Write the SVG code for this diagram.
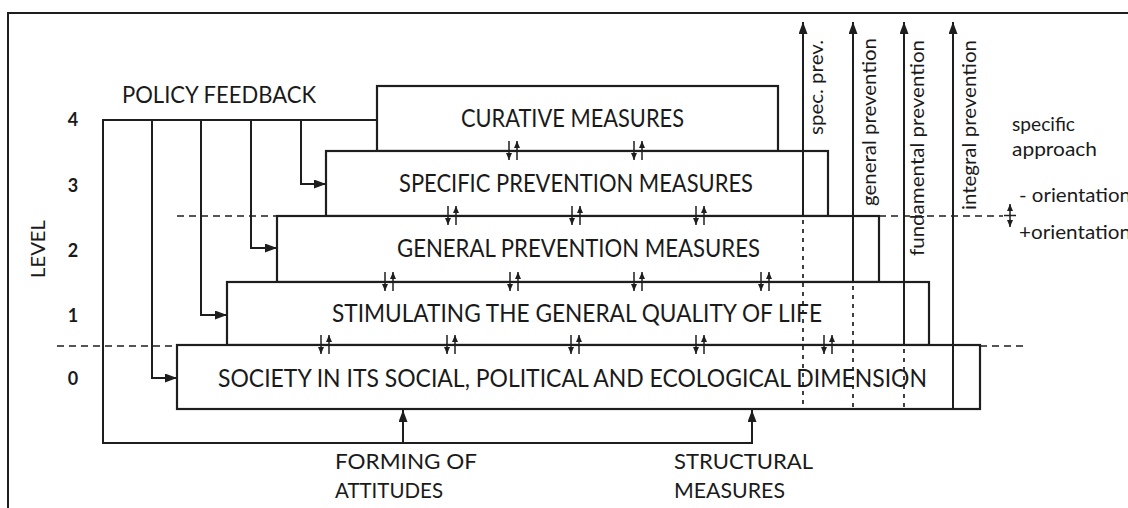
<svg xmlns="http://www.w3.org/2000/svg" width="1128" height="508" viewBox="0 0 1128 508">
<defs>
<style>
text{font-family:Lato,"Open Sans","Liberation Sans",sans-serif;fill:#1a1a1a}
.box{fill:#fff;stroke:#1e1e1e;stroke-width:2.2}
.ln{fill:none;stroke:#1e1e1e;stroke-width:2}
.thin{fill:none;stroke:#1e1e1e;stroke-width:1.5}
.dash{fill:none;stroke:#1e1e1e;stroke-width:1.7;stroke-dasharray:7 5}
.dot{fill:none;stroke:#1e1e1e;stroke-width:1.7;stroke-dasharray:4 5}
.lbl{font-size:25px}
.axis{font-size:18px;font-weight:bold}
.side{font-size:19px}
.bot{font-size:22px}
</style>
<marker id="ah" markerUnits="userSpaceOnUse" markerWidth="12" markerHeight="9" refX="12" refY="4.5" orient="auto"><path d="M0,0 L12,4.5 L0,9 z" fill="#1e1e1e"/></marker>
<marker id="sh" markerUnits="userSpaceOnUse" markerWidth="7" markerHeight="6" refX="7" refY="3" orient="auto"><path d="M0,0 L7,3 L0,6 z" fill="#1e1e1e"/></marker>
<marker id="shs" markerUnits="userSpaceOnUse" markerWidth="7" markerHeight="6" refX="0" refY="3" orient="auto"><path d="M7,0 L0,3 L7,6 z" fill="#1e1e1e"/></marker>
</defs>
<rect width="1128" height="508" fill="#fff"/>

<!-- outer frame -->
<path class="ln" d="M8,508 V13 H1128"/>

<!-- level axis -->
<g id="level-axis">
<text transform="translate(45,278) rotate(-90)" textLength="58" lengthAdjust="spacingAndGlyphs" style="font-size:19px">LEVEL</text>
<text class="axis" x="73" y="126" text-anchor="middle">4</text>
<text class="axis" x="73" y="192" text-anchor="middle">3</text>
<text class="axis" x="73" y="257" text-anchor="middle">2</text>
<text class="axis" x="73" y="322" text-anchor="middle">1</text>
<text class="axis" x="73" y="385" text-anchor="middle">0</text>
</g>

<!-- level boundaries -->
<g id="level-lines">
<path class="dash" d="M177,216 H277 M879,216 H1003"/>
<path class="dash" d="M57,346 H177 M980,346 H1023"/>
</g>

<!-- stacked measure levels -->
<g id="node-curative">
<rect class="box" x="377" y="86" width="401" height="65"/>
<text class="lbl" x="461" y="127" textLength="223" lengthAdjust="spacingAndGlyphs">CURATIVE MEASURES</text>
</g>
<g id="node-specific">
<rect class="box" x="326" y="151" width="502" height="65"/>
<text class="lbl" x="399" y="192" textLength="354" lengthAdjust="spacingAndGlyphs">SPECIFIC PREVENTION MEASURES</text>
</g>
<g id="node-general">
<rect class="box" x="277" y="216" width="602" height="66"/>
<text class="lbl" x="397" y="257" textLength="363" lengthAdjust="spacingAndGlyphs">GENERAL PREVENTION MEASURES</text>
</g>
<g id="node-stimulating">
<rect class="box" x="227" y="282" width="702" height="63"/>
<text class="lbl" x="332" y="322" textLength="490" lengthAdjust="spacingAndGlyphs">STIMULATING THE GENERAL QUALITY OF LIFE</text>
</g>
<g id="node-society">
<rect class="box" x="177" y="345" width="803" height="64"/>
<text class="lbl" x="218" y="387" textLength="709" lengthAdjust="spacingAndGlyphs">SOCIETY IN ITS SOCIAL, POLITICAL AND ECOLOGICAL DIMENSION</text>
</g>

<g id="node-policy-feedback">
<text class="lbl" x="122" y="103" textLength="194" lengthAdjust="spacingAndGlyphs" style="font-size:24px">POLICY FEEDBACK</text>
</g>
<g id="node-forming">
<text class="bot" x="335" y="469" textLength="142" lengthAdjust="spacingAndGlyphs">FORMING OF</text>
<text class="bot" x="335" y="498" textLength="108" lengthAdjust="spacingAndGlyphs">ATTITUDES</text>
</g>
<g id="node-structural">
<text class="bot" x="674" y="469" textLength="139" lengthAdjust="spacingAndGlyphs">STRUCTURAL</text>
<text class="bot" x="674" y="498" textLength="111" lengthAdjust="spacingAndGlyphs">MEASURES</text>
</g>

<g id="node-approach">
<text class="side" x="1012" y="131" textLength="63" lengthAdjust="spacingAndGlyphs">specific</text>
<text class="side" x="1012" y="156" textLength="85" lengthAdjust="spacingAndGlyphs">approach</text>
<text class="side" x="1019" y="202" textLength="112" lengthAdjust="spacingAndGlyphs">- orientation</text>
<text class="side" x="1019" y="239" textLength="112" lengthAdjust="spacingAndGlyphs">+orientation</text>
</g>

<g id="node-prevention-labels">
<text class="side" transform="translate(823,135) rotate(-90)" textLength="95" lengthAdjust="spacingAndGlyphs">spec. prev.</text>
<text class="side" transform="translate(876,206) rotate(-90)" textLength="168" lengthAdjust="spacingAndGlyphs">general prevention</text>
<text class="side" transform="translate(924,256) rotate(-90)" textLength="216" lengthAdjust="spacingAndGlyphs">fundamental prevention</text>
<text class="side" transform="translate(976,210) rotate(-90)" textLength="170" lengthAdjust="spacingAndGlyphs">integral prevention</text>
</g>

<!-- connectors -->
<g id="connectors">
<!-- policy feedback loop -->
<path class="ln" d="M377,120 H103 V443 H752 V410" marker-end="url(#ah)"/>
<path class="ln" d="M403,443 V410" marker-end="url(#ah)"/>
<path class="ln" d="M152,120 V378 H177" marker-end="url(#ah)"/>
<path class="ln" d="M201,120 V315 H227" marker-end="url(#ah)"/>
<path class="ln" d="M251,120 V248 H277" marker-end="url(#ah)"/>
<path class="ln" d="M301,120 V184 H326" marker-end="url(#ah)"/>

<!-- prevention scope arrows -->
<path class="ln" d="M803,216 V22" marker-end="url(#ah)"/>
<path class="dot" d="M803,220 V409"/>
<path class="ln" d="M853,282 V22" marker-end="url(#ah)"/>
<path class="dot" d="M853,286 V409"/>
<path class="ln" d="M904,345 V22" marker-end="url(#ah)"/>
<path class="dot" d="M904,349 V409"/>
<path class="ln" d="M953,409 V22" marker-end="url(#ah)"/>

<!-- orientation sign -->
<path class="thin" d="M1010,204 V227" marker-start="url(#shs)" marker-end="url(#sh)"/>
<path class="thin" d="M1004,215.5 H1016"/>

<!-- exchange between levels -->
<g class="thin">
<path d="M509,141 V160" marker-end="url(#sh)"/><path d="M517,160 V141" marker-end="url(#sh)"/>
<path d="M634,141 V160" marker-end="url(#sh)"/><path d="M642,160 V141" marker-end="url(#sh)"/>

<path d="M448,206 V225" marker-end="url(#sh)"/><path d="M456,225 V206" marker-end="url(#sh)"/>
<path d="M572,206 V225" marker-end="url(#sh)"/><path d="M580,225 V206" marker-end="url(#sh)"/>
<path d="M696,206 V225" marker-end="url(#sh)"/><path d="M704,225 V206" marker-end="url(#sh)"/>

<path d="M385,272 V291" marker-end="url(#sh)"/><path d="M393,291 V272" marker-end="url(#sh)"/>
<path d="M510,272 V291" marker-end="url(#sh)"/><path d="M518,291 V272" marker-end="url(#sh)"/>
<path d="M634,272 V291" marker-end="url(#sh)"/><path d="M642,291 V272" marker-end="url(#sh)"/>
<path d="M761,272 V291" marker-end="url(#sh)"/><path d="M769,291 V272" marker-end="url(#sh)"/>

<path d="M321,335 V354" marker-end="url(#sh)"/><path d="M329,354 V335" marker-end="url(#sh)"/>
<path d="M447,335 V354" marker-end="url(#sh)"/><path d="M455,354 V335" marker-end="url(#sh)"/>
<path d="M571,335 V354" marker-end="url(#sh)"/><path d="M579,354 V335" marker-end="url(#sh)"/>
<path d="M696,335 V354" marker-end="url(#sh)"/><path d="M704,354 V335" marker-end="url(#sh)"/>
<path d="M824,335 V354" marker-end="url(#sh)"/><path d="M832,354 V335" marker-end="url(#sh)"/>
</g>
</g>
</svg>
